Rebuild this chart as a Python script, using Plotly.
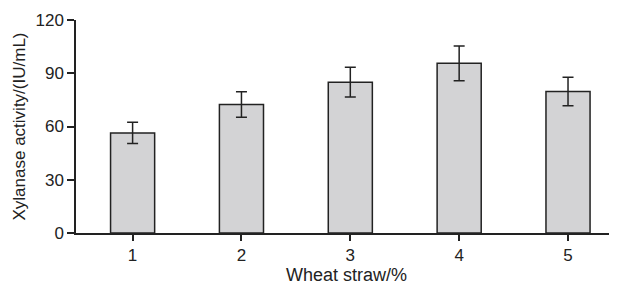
import plotly.graph_objects as go

categories = [1, 2, 3, 4, 5]
activity = [56.4, 72.4, 85.0, 95.6, 79.7]
errors = [6.0, 7.2, 8.4, 9.8, 8.0]
y_ticks = [0, 30, 60, 90, 120]

fig = go.Figure()
fig.add_trace(go.Bar(
    x=categories, y=activity, width=0.405,
    marker=dict(color="#d3d3d5", line=dict(color="#222222", width=1.5)),
    error_y=dict(type="data", array=errors, visible=True, color="#222222",
                 thickness=1.5, width=5.5),
))

font = dict(family="Liberation Sans, Arial, sans-serif", color="#222222")
# page body has an 8px default margin, so the figure is sized to fill the rest
fig.update_layout(
    width=609, height=277,
    margin=dict(l=68, r=0, t=12, b=52, autoexpand=False),
    paper_bgcolor="white", plot_bgcolor="white",
    showlegend=False,
    font=dict(size=15, **font),
    xaxis=dict(
        range=[0.48, 5.45], tickvals=categories, ticktext=[str(c) for c in categories],
        tickson="boundaries", ticks="outside", ticklen=6, tickwidth=1.5,
        tickcolor="#222222", showline=True, linecolor="#222222", linewidth=1.5,
        showgrid=False, zeroline=False, automargin=False,
        title=dict(text="Wheat straw/%", font=dict(size=18, **font), standoff=2),
        tickfont=dict(size=17, **font),
    ),
    yaxis=dict(
        range=[0, 120], tickvals=y_ticks, ticks="outside", ticklen=7, tickwidth=1.5,
        tickcolor="#222222", showline=True, linecolor="#222222", linewidth=1.5,
        showgrid=False, zeroline=False, automargin=False,
        title=dict(text="Xylanase activity/(IU/mL)", font=dict(size=17, **font), standoff=6),
        tickfont=dict(size=17, **font),
    ),
)
fig.write_html("out.html")
